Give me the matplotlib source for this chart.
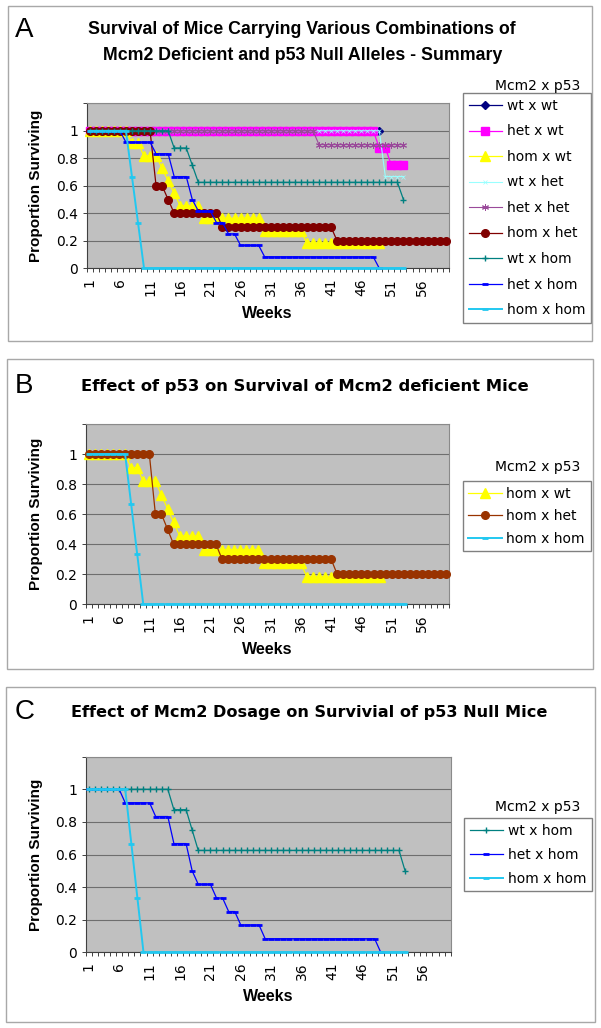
import matplotlib
matplotlib.use("Agg")
import matplotlib.pyplot as plt
from matplotlib.patches import Rectangle
from matplotlib.ticker import FixedLocator

# =========================
# DATA (proportion surviving per week)
# =========================
weeks_label = ["1", "6", "11", "16", "21", "26", "31", "36", "41", "46", "51", "56"]

wt_wt = [1, 1, 1, 1, 1, 1, 1, 1, 1, 1,
         1, 1, 1, 1, 1, 1, 1, 1, 1, 1,
         1, 1, 1, 1, 1, 1, 1, 1, 1, 1,
         1, 1, 1, 1, 1, 1, 1, 1, 1, 1,
         1, 1, 1, 1, 1, 1, 1, 1, 1]
het_wt = [1, 1, 1, 1, 1, 1, 1, 1, 1, 1,
          1, 1, 1, 1, 1, 1, 1, 1, 1, 1,
          1, 1, 1, 1, 1, 1, 1, 1, 1, 1,
          1, 1, 1, 1, 1, 1, 1, 1, 1, 1,
          1, 1, 1, 1, 1, 1, 1, 1, 0.875, 0.875,
          0.75, 0.75, 0.75]
hom_wt = [1, 1, 1, 1, 1, 1, 1, 0.909, 0.909, 0.818,
          0.818, 0.818, 0.727, 0.636, 0.545, 0.455, 0.455, 0.455, 0.455, 0.364,
          0.364, 0.364, 0.364, 0.364, 0.364, 0.364, 0.364, 0.364, 0.364, 0.273,
          0.273, 0.273, 0.273, 0.273, 0.273, 0.273, 0.182, 0.182, 0.182, 0.182,
          0.182, 0.182, 0.182, 0.182, 0.182, 0.182, 0.182, 0.182, 0.182]
wt_het = [1, 1, 1, 1, 1, 1, 1, 1, 1, 1,
          1, 1, 1, 1, 1, 1, 1, 1, 1, 1,
          1, 1, 1, 1, 1, 1, 1, 1, 1, 1,
          1, 1, 1, 1, 1, 1, 1, 1, 1, 1,
          1, 1, 1, 1, 1, 1, 1, 1, 1, 0.667,
          0.667, 0.667, 0.667]
het_het = [1, 1, 1, 1, 1, 1, 1, 1, 1, 1,
           1, 1, 1, 1, 1, 1, 1, 1, 1, 1,
           1, 1, 1, 1, 1, 1, 1, 1, 1, 1,
           1, 1, 1, 1, 1, 1, 1, 1, 0.9, 0.9,
           0.9, 0.9, 0.9, 0.9, 0.9, 0.9, 0.9, 0.9, 0.9, 0.9,
           0.9, 0.9, 0.9]
hom_het = [1, 1, 1, 1, 1, 1, 1, 1, 1, 1,
           1, 0.6, 0.6, 0.5, 0.4, 0.4, 0.4, 0.4, 0.4, 0.4,
           0.4, 0.4, 0.3, 0.3, 0.3, 0.3, 0.3, 0.3, 0.3, 0.3,
           0.3, 0.3, 0.3, 0.3, 0.3, 0.3, 0.3, 0.3, 0.3, 0.3,
           0.3, 0.2, 0.2, 0.2, 0.2, 0.2, 0.2, 0.2, 0.2, 0.2,
           0.2, 0.2, 0.2, 0.2, 0.2, 0.2, 0.2, 0.2, 0.2, 0.2]
wt_hom = [1, 1, 1, 1, 1, 1, 1, 1, 1, 1,
          1, 1, 1, 1, 0.875, 0.875, 0.875, 0.75, 0.625, 0.625,
          0.625, 0.625, 0.625, 0.625, 0.625, 0.625, 0.625, 0.625, 0.625, 0.625,
          0.625, 0.625, 0.625, 0.625, 0.625, 0.625, 0.625, 0.625, 0.625, 0.625,
          0.625, 0.625, 0.625, 0.625, 0.625, 0.625, 0.625, 0.625, 0.625, 0.625,
          0.625, 0.625, 0.5]
het_hom = [1, 1, 1, 1, 1, 1, 0.917, 0.917, 0.917, 0.917,
           0.917, 0.833, 0.833, 0.833, 0.667, 0.667, 0.667, 0.5, 0.417, 0.417,
           0.417, 0.333, 0.333, 0.25, 0.25, 0.167, 0.167, 0.167, 0.167, 0.083,
           0.083, 0.083, 0.083, 0.083, 0.083, 0.083, 0.083, 0.083, 0.083, 0.083,
           0.083, 0.083, 0.083, 0.083, 0.083, 0.083, 0.083, 0.083, 0]
hom_hom = [1, 1, 1, 1, 1, 1, 1, 0.667, 0.333, 0,
           0, 0, 0, 0, 0, 0, 0, 0, 0, 0,
           0, 0, 0, 0, 0, 0, 0, 0, 0, 0,
           0, 0, 0, 0, 0, 0, 0, 0, 0, 0,
           0, 0, 0, 0, 0, 0, 0, 0, 0, 0,
           0, 0, 0]

# =========================
# STYLE per series: colour, marker, size, edge width, line width
# =========================
style = {
    "wt x wt":   ("#000080", "D", 4.5, 1, 0.9),
    "het x wt":  ("#FF00FF", "s", 6, 1, 0.9),
    "hom x wt":  ("#FFFF00", "^", 7, 1, 0.9),
    "wt x het":  ("#99FFFF", "x", 2.5, 0.5, 0.8),
    "het x het": ("#9A4A9A", (6, 2, 0), 5, 0.7, 0.8),
    "hom x het": ("#800000", "o", 5.5, 1, 0.9),
    "wt x hom":  ("#008080", "+", 5, 1, 0.9),
    "het x hom": ("#0000FF", "_", 4, 2, 0.9),
    "hom x hom": ("#22C8F0", "_", 4, 2, 1.4),
}

W, H = 601, 1028
fig = plt.figure(figsize=(W / 100, H / 100), dpi=100)

TXT = "DejaVu Sans"
BOLD = "Liberation Sans"


def fx(px):
    return px / W


def fy(py):
    return 1 - py / H


def panel(rect, series, colors=None):
    x0, y0, x1, y1 = rect
    ax = fig.add_axes([fx(x0), fy(y1), fx(x1) - fx(x0), (y1 - y0) / H])
    ax.set_facecolor("#C0C0C0")
    handles = []
    for i, (name, vals) in enumerate(series):
        c, m, ms, mew, lw = style[name]
        if colors and name in colors:
            c = colors[name]
        xs = list(range(1, len(vals) + 1))
        ln, = ax.plot(xs, vals, color=c, lw=lw, marker=m, ms=ms, mew=mew,
                      mec=c, mfc=c, zorder=3 + i, clip_on=False)
        handles.append(ln)
    ax.set_xlim(0.5, 60.5)
    ax.set_ylim(0, 1.2)
    ax.set_yticks([0, 0.2, 0.4, 0.6, 0.8, 1.0, 1.2])
    ax.set_yticklabels(["0", "0.2", "0.4", "0.6", "0.8", "1", ""],
                       fontsize=10, family=TXT)
    ax.set_xticks([int(s) for s in weeks_label])
    ax.set_xticklabels(weeks_label, rotation=90, fontsize=10, family=TXT)
    ax.xaxis.set_minor_locator(FixedLocator([k + 0.5 for k in range(0, 61)]))
    ax.tick_params(axis="x", which="major", length=0, pad=7)
    ax.tick_params(axis="x", which="minor", length=3, width=0.7,
                   color="#404040", direction="out")
    ax.tick_params(axis="y", length=3, width=0.7, color="#404040", pad=3)
    ax.yaxis.grid(True, color="#6E6E6E", lw=0.8)
    ax.set_axisbelow(True)
    for s in ["top", "right"]:
        ax.spines[s].set_color("#8A8A8A")
        ax.spines[s].set_linewidth(0.8)
    for s in ["left", "bottom"]:
        ax.spines[s].set_color("#404040")
        ax.spines[s].set_linewidth(0.8)
    fig.text(fx((x0 + x1) / 2), fy(y1 + 45 if y1 < 900 else y1 + 44),
             "Weeks", fontsize=11.5, fontweight="bold", family=BOLD,
             ha="center", va="center")
    fig.text(fx(36), fy((y0 + y1) / 2), "Proportion Surviving", fontsize=11,
             fontweight="bold", family=BOLD, rotation=90,
             ha="center", va="center")
    return ax, handles


def legend(ax, handles, labels, left, top, spacing, title_y):
    ax.legend(handles, labels, loc="upper left",
              bbox_to_anchor=(fx(left), fy(top)), bbox_transform=fig.transFigure,
              fancybox=False, edgecolor="#808080", framealpha=1,
              facecolor="white", numpoints=1, borderaxespad=0,
              borderpad=0.4, handlelength=2.4, handletextpad=0.35,
              labelspacing=spacing, prop={"family": TXT, "size": 10})
    fig.text(fx(538), fy(title_y), "Mcm2 x p53", fontsize=10, family=TXT,
             ha="center", va="center")


def box(x0, y0, x1, y1):
    fig.patches.append(Rectangle((fx(x0), fy(y1)), fx(x1) - fx(x0),
                                 (y1 - y0) / H, transform=fig.transFigure,
                                 fill=False, edgecolor="#A8A8A8", lw=1))


# =========================
# PANEL A
# =========================
box(8, 6, 592, 341)
fig.text(fx(24), fy(30), "A", fontsize=20, family=BOLD, ha="center", va="center")
fig.text(fx(302), fy(30), "Survival of Mice Carrying Various Combinations of",
         fontsize=12.8, fontweight="bold", family=BOLD, ha="center", va="center")
fig.text(fx(303), fy(55), "Mcm2 Deficient and p53 Null Alleles - Summary",
         fontsize=12.8, fontweight="bold", family=BOLD, ha="center", va="center")
sA = [("wt x wt", wt_wt), ("het x wt", het_wt), ("hom x wt", hom_wt),
      ("wt x het", wt_het), ("het x het", het_het), ("hom x het", hom_het),
      ("wt x hom", wt_hom), ("het x hom", het_hom), ("hom x hom", hom_hom)]
axA, hA = panel((86.7, 103.3, 448.7, 268.3), sA)
legend(axA, hA, [n for n, _ in sA], 463, 93.3, 0.83, 86)

# =========================
# PANEL B
# =========================
box(7, 359, 593, 669)
fig.text(fx(24), fy(386), "B", fontsize=20, family=BOLD, ha="center", va="center")
fig.text(fx(305), fy(387), "Effect of p53 on Survival of Mcm2 deficient Mice",
         fontsize=11.8, fontweight="bold", family=TXT, ha="center", va="center")
sB = [("hom x wt", hom_wt), ("hom x het", hom_het), ("hom x hom", hom_hom)]
axB, hB = panel((85.7, 424, 449.3, 604.3), sB, colors={"hom x het": "#993300"})
legend(axB, hB, ["hom x wt", "hom x het", "hom x hom"], 462.7, 481, 0.62, 467)

# =========================
# PANEL C
# =========================
box(6, 687, 595, 1022)
fig.text(fx(25), fy(712), "C", fontsize=20, family=BOLD, ha="center", va="center")
fig.text(fx(309), fy(712), "Effect of Mcm2 Dosage on Survivial of p53 Null Mice",
         fontsize=11.6, fontweight="bold", family=TXT, ha="center", va="center")
sC = [("wt x hom", wt_hom), ("het x hom", het_hom), ("hom x hom", hom_hom)]
axC, hC = panel((85.7, 756.7, 450.7, 952.3), sC)
legend(axC, hC, ["wt x hom", "het x hom", "hom x hom"], 464, 818, 0.73, 806.7)

fig.savefig("out.png", dpi=100)
